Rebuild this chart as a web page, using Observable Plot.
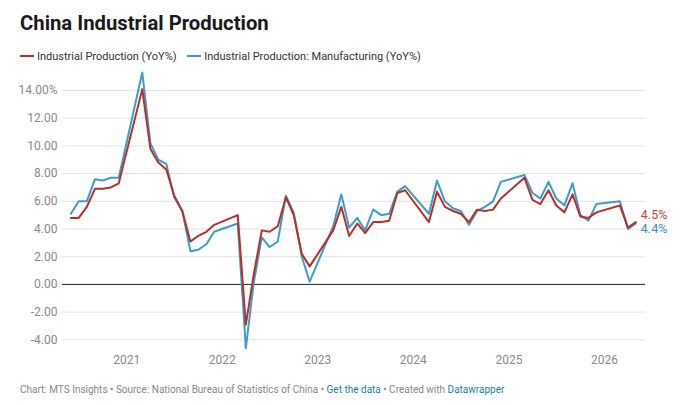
<!DOCTYPE html>
<html><head><meta charset="utf-8">
<script src="https://cdn.jsdelivr.net/npm/d3@7"></script>
<script src="https://cdn.jsdelivr.net/npm/@observablehq/plot@0.6"></script>
<style>
body{margin:0;background:#fff;font-family:Roboto,sans-serif;}
#wrap{position:relative;width:680px;height:405px;overflow:hidden;}
h1{position:absolute;left:20px;top:11px;margin:0;font-size:20.3px;font-weight:700;color:#1a1a1a;}
.legend{position:absolute;left:20px;top:50px;font-size:11px;color:#333;white-space:nowrap;}
.legend span.item{margin-right:8px;}
.sw{display:inline-block;width:14px;height:2px;vertical-align:middle;margin-right:3px;position:relative;top:-1px;}
#chart{position:absolute;left:0;top:66px;}
.caption{position:absolute;left:20px;top:384px;font-size:10px;color:#888;white-space:nowrap;}
.caption a{color:#1d81a2;text-decoration:none;}
</style></head>
<body>
<div id="wrap">
<h1>China Industrial Production</h1>
<div class="legend">
<span class="item"><span class="sw" style="background:#b8302b"></span>Industrial Production (YoY%)</span>
<span class="item"><span class="sw" style="background:#3d9dc8"></span>Industrial Production: Manufacturing (YoY%)</span>
</div>
<div id="chart"></div>
<div class="caption">Chart: MTS Insights • Source: National Bureau of Statistics of China • <a>Get the data</a> • Created with <a>Datawrapper</a></div>
</div>
<script>
const months = [
  "2020-06","2020-07","2020-08","2020-09","2020-10","2020-11","2020-12",
  "2021-03","2021-04","2021-05","2021-06","2021-07","2021-08","2021-09","2021-10","2021-11","2021-12",
  "2022-03","2022-04","2022-05","2022-06","2022-07","2022-08","2022-09","2022-10","2022-11","2022-12",
  "2023-03","2023-04","2023-05","2023-06","2023-07","2023-08","2023-09","2023-10","2023-11","2023-12",
  "2024-03","2024-04","2024-05","2024-06","2024-07","2024-08","2024-09","2024-10","2024-11","2024-12",
  "2025-03","2025-04","2025-05","2025-06","2025-07","2025-08","2025-09","2025-10","2025-11","2025-12",
  "2026-03","2026-04","2026-05"
];
const industrialProduction = [
  4.8,4.8,5.6,6.9,6.9,7.0,7.3,
  14.1,9.8,8.8,8.3,6.4,5.3,3.1,3.5,3.8,4.3,
  5.0,-2.9,0.7,3.9,3.8,4.2,6.3,5.0,2.2,1.3,
  3.9,5.6,3.5,4.4,3.7,4.5,4.5,4.6,6.6,6.8,
  4.5,6.7,5.6,5.3,5.1,4.5,5.4,5.3,5.4,6.2,
  7.7,6.1,5.8,6.8,5.7,5.2,6.5,4.9,4.8,5.2,
  5.7,4.1,4.5
];
const manufacturing = [
  5.1,6.0,6.0,7.6,7.5,7.7,7.7,
  15.3,10.2,9.0,8.7,6.3,5.3,2.4,2.5,2.9,3.8,
  4.4,-4.6,0.1,3.4,2.7,3.1,6.4,5.2,2.0,0.2,
  4.2,6.5,4.1,4.8,3.9,5.4,5.0,5.1,6.7,7.1,
  5.1,7.5,6.0,5.5,5.3,4.3,5.3,5.6,6.0,7.4,
  7.9,6.6,6.2,7.4,6.2,5.7,7.3,5.0,4.6,5.8,
  6.0,4.0,4.4
];
const yTicks = [-4,-2,0,2,4,6,8,10,12,14];
const xTickYears = [2021,2022,2023,2024,2025,2026];
const seriesNames = ["Industrial Production (YoY%)","Industrial Production: Manufacturing (YoY%)"];
const endLabels = ["4.5%","4.4%"];

const parse = d3.utcParse("%Y-%m");
const data = months.map((m,i)=>({date:parse(m), ip:industrialProduction[i], mfg:manufacturing[i]}));
const last = data[data.length-1];
const xTicks = xTickYears.map(y=>new Date(Date.UTC(y,0,1)));
const RED="#b8302b", BLUE="#3d9dc8";

const chart = Plot.plot({
  width:680, height:304,
  marginLeft:62, marginRight:35, marginTop:6, marginBottom:21,
  style:{fontFamily:"Roboto, sans-serif", background:"transparent"},
  x:{type:"utc", domain:[new Date(Date.UTC(2020,3,30)), new Date(Date.UTC(2026,5,7))]},
  y:{domain:[-4.7,15.3]},
  marks:[
    Plot.ruleY(yTicks.filter(d=>d!==0), {stroke:"#e3e3e3", strokeWidth:1}),
    Plot.ruleY([0], {stroke:"#222", strokeWidth:1}),
    Plot.axisY(yTicks, {tickSize:0, tickPadding:5, fontSize:12, fill:"#8a8a8a", label:null,
      tickFormat:d=> d===14 ? "14.00%" : d.toFixed(2)}),
    Plot.axisX(xTicks, {tickSize:0, tickPadding:6, fontSize:12, fill:"#8a8a8a", label:null,
      tickFormat:d=>String(d.getUTCFullYear())}),
    Plot.lineY(data, {x:"date", y:"mfg", stroke:BLUE, strokeWidth:2}),
    Plot.lineY(data, {x:"date", y:"ip", stroke:RED, strokeWidth:2}),
    Plot.text([last], {x:"date", y:"ip", text:()=>endLabels[0], dx:5, dy:-7, textAnchor:"start", fill:"#c8413c", fontSize:12.5}),
    Plot.text([last], {x:"date", y:"mfg", text:()=>endLabels[1], dx:5, dy:6, textAnchor:"start", fill:"#3a8fbb", fontSize:12.5})
  ]
});
document.getElementById("chart").appendChild(chart);
</script>
</body></html>
